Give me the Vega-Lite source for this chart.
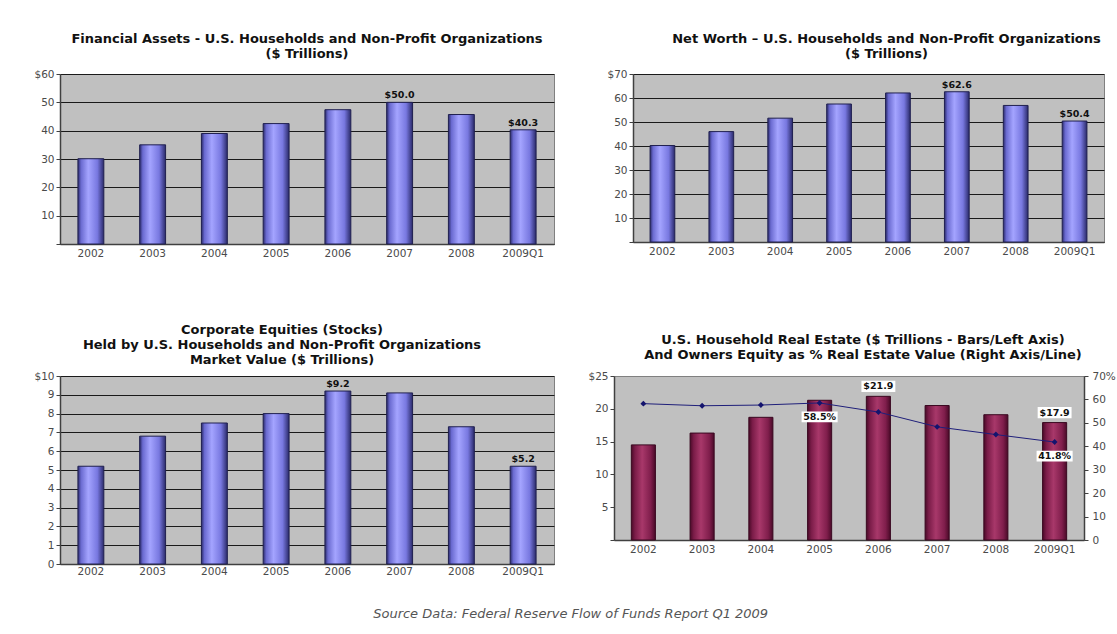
{
  "$schema": "https://vega.github.io/schema/vega-lite/v6.json",
  "background": "white",
  "padding": {"left": 25, "top": 32, "right": 0, "bottom": 5},
  "config": {
    "view": {"fill": "#c0c0c0", "stroke": "#808080", "strokeWidth": 1},
    "font": "DejaVu Sans",
    "title": {"fontSize": 13, "fontWeight": "bold", "color": "#111111", "lineHeight": 15, "anchor": "middle", "font": "DejaVu Sans"},
    "axis": {"labelFont": "DejaVu Sans", "labelFontSize": 10.5, "labelColor": "#4a4a4a", "domainColor": "#404040", "tickColor": "#404040", "title": null, "labelOverlap": false},
    "axisX": {"ticks": false, "grid": false, "labelAngle": 0, "labelPadding": 4, "domainWidth": 1.5},
    "axisY": {"gridColor": "#1a1a1a", "gridWidth": 1, "tickSize": 4, "labelPadding": 2, "domainWidth": 1.5}
  },
  "title": {"text": "Source Data: Federal Reserve Flow of Funds Report Q1 2009", "orient": "bottom", "fontStyle": "italic", "fontWeight": "normal", "fontSize": 13, "color": "#555555", "anchor": "middle", "offset": 31, "font": "DejaVu Sans"},
  "spacing": 64,
  "vconcat": [
    {
      "spacing": 51,
      "hconcat": [
        {
          "title": {"text": ["Financial Assets - U.S. Households and Non-Profit Organizations", "($ Trillions)"], "offset": 8},
          "width": 494, "height": 170,
          "data": {"values": [
            {"year": "2002", "v": 30.1, "label": ""},
            {"year": "2003", "v": 35.0, "label": ""},
            {"year": "2004", "v": 39.0, "label": ""},
            {"year": "2005", "v": 42.5, "label": ""},
            {"year": "2006", "v": 47.4, "label": ""},
            {"year": "2007", "v": 50.0, "label": "$50.0"},
            {"year": "2008", "v": 45.7, "label": ""},
            {"year": "2009Q1", "v": 40.3, "label": "$40.3"}
          ]},
          "encoding": {
            "x": {"field": "year", "type": "ordinal", "scale": {"paddingInner": 0.58, "paddingOuter": 0.29}},
            "y": {"field": "v", "type": "quantitative", "scale": {"domain": [0, 60]}, "axis": {"values": [0, 10, 20, 30, 40, 50, 60], "minExtent": 34, "maxExtent": 34, "labelExpr": "datum.value == 60 ? '$60' : datum.value == 0 ? '' : datum.label"}}
          },
          "layer": [
            {
              "mark": {"type": "bar", "stroke": "#202050", "strokeWidth": 1, "fill": {"gradient": "linear", "x1": 0, "y1": 0, "x2": 1, "y2": 0, "stops": [{"offset": 0, "color": "#2a2a6a"}, {"offset": 0.12, "color": "#6a6ad0"}, {"offset": 0.4, "color": "#a4a4ff"}, {"offset": 0.75, "color": "#7878e0"}, {"offset": 1, "color": "#2a2a6a"}]}}
            },
            {
              "transform": [{"filter": "datum.label != ''"}],
              "mark": {"type": "text", "fontWeight": "bold", "fontSize": 9.5, "baseline": "bottom", "dy": -2, "color": "#111111"},
              "encoding": {"text": {"field": "label"}}
            }
          ]
        },
        {
          "title": {"text": ["Net Worth – U.S. Households and Non-Profit Organizations", "($ Trillions)"], "offset": 8, "dx": 18},
          "width": 471, "height": 168,
          "data": {"values": [
            {"year": "2002", "v": 40.2, "label": ""},
            {"year": "2003", "v": 46.0, "label": ""},
            {"year": "2004", "v": 51.6, "label": ""},
            {"year": "2005", "v": 57.5, "label": ""},
            {"year": "2006", "v": 62.1, "label": ""},
            {"year": "2007", "v": 62.6, "label": "$62.6"},
            {"year": "2008", "v": 56.9, "label": ""},
            {"year": "2009Q1", "v": 50.4, "label": "$50.4"}
          ]},
          "encoding": {
            "x": {"field": "year", "type": "ordinal", "scale": {"paddingInner": 0.58, "paddingOuter": 0.29}},
            "y": {"field": "v", "type": "quantitative", "scale": {"domain": [0, 70]}, "axis": {"values": [0, 10, 20, 30, 40, 50, 60, 70], "labelExpr": "datum.value == 70 ? '$70' : datum.value == 0 ? '' : datum.label"}}
          },
          "layer": [
            {
              "mark": {"type": "bar", "stroke": "#202050", "strokeWidth": 1, "fill": {"gradient": "linear", "x1": 0, "y1": 0, "x2": 1, "y2": 0, "stops": [{"offset": 0, "color": "#2a2a6a"}, {"offset": 0.12, "color": "#6a6ad0"}, {"offset": 0.4, "color": "#a4a4ff"}, {"offset": 0.75, "color": "#7878e0"}, {"offset": 1, "color": "#2a2a6a"}]}}
            },
            {
              "transform": [{"filter": "datum.label != ''"}],
              "mark": {"type": "text", "fontWeight": "bold", "fontSize": 9.5, "baseline": "bottom", "dy": -2, "color": "#111111"},
              "encoding": {"text": {"field": "label"}}
            }
          ]
        }
      ]
    },
    {
      "spacing": 32,
      "hconcat": [
        {
          "title": {"text": ["Corporate Equities (Stocks)", "Held by U.S. Households and Non-Profit Organizations", "Market Value ($ Trillions)"], "offset": 4, "dx": -25},
          "width": 494, "height": 188,
          "data": {"values": [
            {"year": "2002", "v": 5.2, "label": ""},
            {"year": "2003", "v": 6.8, "label": ""},
            {"year": "2004", "v": 7.5, "label": ""},
            {"year": "2005", "v": 8.0, "label": ""},
            {"year": "2006", "v": 9.2, "label": "$9.2"},
            {"year": "2007", "v": 9.1, "label": ""},
            {"year": "2008", "v": 7.3, "label": ""},
            {"year": "2009Q1", "v": 5.2, "label": "$5.2"}
          ]},
          "encoding": {
            "x": {"field": "year", "type": "ordinal", "scale": {"paddingInner": 0.58, "paddingOuter": 0.29}, "axis": {"labelPadding": 2}},
            "y": {"field": "v", "type": "quantitative", "scale": {"domain": [0, 10]}, "axis": {"values": [0, 1, 2, 3, 4, 5, 6, 7, 8, 9, 10], "labelExpr": "datum.value == 10 ? '$10' : datum.label"}}
          },
          "layer": [
            {
              "mark": {"type": "bar", "stroke": "#202050", "strokeWidth": 1, "fill": {"gradient": "linear", "x1": 0, "y1": 0, "x2": 1, "y2": 0, "stops": [{"offset": 0, "color": "#2a2a6a"}, {"offset": 0.12, "color": "#6a6ad0"}, {"offset": 0.4, "color": "#a4a4ff"}, {"offset": 0.75, "color": "#7878e0"}, {"offset": 1, "color": "#2a2a6a"}]}}
            },
            {
              "transform": [{"filter": "datum.label != ''"}],
              "mark": {"type": "text", "fontWeight": "bold", "fontSize": 9.5, "baseline": "bottom", "dy": -2, "color": "#111111"},
              "encoding": {"text": {"field": "label"}}
            }
          ]
        },
        {
          "title": {"text": ["U.S. Household Real Estate ($ Trillions - Bars/Left Axis)", "And Owners Equity as % Real Estate Value (Right Axis/Line)"], "offset": 9, "dx": 14},
          "width": 470, "height": 164,
          "data": {"values": [
            {"year": "2002", "re": 14.5, "eq": 58.2, "rlabel": "", "elabel": ""},
            {"year": "2003", "re": 16.3, "eq": 57.3, "rlabel": "", "elabel": ""},
            {"year": "2004", "re": 18.7, "eq": 57.6, "rlabel": "", "elabel": ""},
            {"year": "2005", "re": 21.3, "eq": 58.5, "rlabel": "", "elabel": "58.5%"},
            {"year": "2006", "re": 21.9, "eq": 54.6, "rlabel": "$21.9", "elabel": ""},
            {"year": "2007", "re": 20.5, "eq": 48.3, "rlabel": "", "elabel": ""},
            {"year": "2008", "re": 19.1, "eq": 45.0, "rlabel": "", "elabel": ""},
            {"year": "2009Q1", "re": 17.9, "eq": 41.8, "rlabel": "$17.9", "elabel": "41.8%"}
          ]},
          "encoding": {"x": {"field": "year", "type": "ordinal", "scale": {"paddingInner": 0.59, "paddingOuter": 0.295}}},
          "layer": [
            {
              "encoding": {"y": {"field": "re", "type": "quantitative", "scale": {"domain": [0, 25]}, "axis": {"grid": false, "values": [0, 5, 10, 15, 20, 25], "labelExpr": "datum.value == 25 ? '$25' : datum.value == 0 ? '' : datum.label"}}},
              "layer": [
                {
                  "mark": {"type": "bar", "stroke": "#3a0820", "strokeWidth": 1, "fill": {"gradient": "linear", "x1": 0, "y1": 0, "x2": 1, "y2": 0, "stops": [{"offset": 0, "color": "#4a0a28"}, {"offset": 0.15, "color": "#7a1c48"}, {"offset": 0.45, "color": "#a8386a"}, {"offset": 0.8, "color": "#801e4c"}, {"offset": 1, "color": "#4a0a28"}]}}
                },
                {
                  "transform": [{"filter": "datum.rlabel != ''"}],
                  "mark": {"type": "point", "shape": "M-1,-0.33L1,-0.33L1,0.33L-1,0.33Z", "filled": true, "fill": "#ffffff", "opacity": 1, "size": 1150, "strokeWidth": 0, "yOffset": -10}
                },
                {
                  "transform": [{"filter": "datum.rlabel != ''"}],
                  "mark": {"type": "text", "fontWeight": "bold", "fontSize": 9.5, "baseline": "middle", "yOffset": -10, "color": "#111111"},
                  "encoding": {"text": {"field": "rlabel"}}
                }
              ]
            },
            {
              "encoding": {"y": {"field": "eq", "type": "quantitative", "scale": {"domain": [0, 70]}, "axis": {"orient": "right", "grid": false, "values": [0, 10, 20, 30, 40, 50, 60, 70], "labelExpr": "datum.value == 70 ? '70%' : datum.label", "labelPadding": 4}}},
              "layer": [
                {
                  "mark": {"type": "line", "color": "#1f1f7a", "strokeWidth": 1}
                },
                {
                  "mark": {"type": "point", "shape": "diamond", "filled": true, "color": "#14146e", "size": 35, "opacity": 1}
                },
                {
                  "transform": [{"filter": "datum.elabel != ''"}],
                  "mark": {"type": "point", "shape": "M-1,-0.3L1,-0.3L1,0.3L-1,0.3Z", "filled": true, "fill": "#ffffff", "opacity": 1, "size": 1300, "strokeWidth": 0, "yOffset": 14}
                },
                {
                  "transform": [{"filter": "datum.elabel != ''"}],
                  "mark": {"type": "text", "fontWeight": "bold", "fontSize": 9.5, "baseline": "middle", "yOffset": 14, "color": "#111111"},
                  "encoding": {"text": {"field": "elabel"}}
                }
              ]
            }
          ],
          "resolve": {"scale": {"y": "independent"}}
        }
      ]
    }
  ]
}
